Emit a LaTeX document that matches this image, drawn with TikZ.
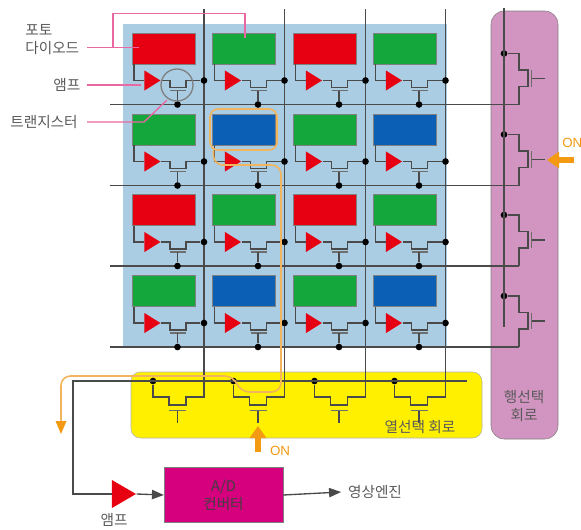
\documentclass[tikz,border=0pt]{standalone}
\usepackage{fontspec}
\setmainfont{Liberation Sans}
\newfontfamily\krfont{Noto Sans CJK KR}
\usetikzlibrary{arrows.meta, shapes.geometric}

\definecolor{panelblue}{HTML}{AACDE3}
\definecolor{diodered}{HTML}{E60012}
\definecolor{diodegreen}{HTML}{13A73C}
\definecolor{diodeblue}{HTML}{0B5FB5}
\definecolor{colyellow}{HTML}{FFF000}
\definecolor{rowpink}{HTML}{D295C1}
\definecolor{adcpink}{HTML}{D6007F}
\definecolor{wiregray}{HTML}{4A4A4A}
\definecolor{notepink}{HTML}{EA68A2}
\definecolor{pathorange}{HTML}{F2B45C}
\definecolor{onorange}{HTML}{F39A12}
\definecolor{labelgray}{HTML}{5A5A5A}

\tikzset{
    wire/.style = {draw=wiregray, line width=1pt},
    gatebar/.style = {draw=wiregray!80, line width=1.3pt},
    jct/.style = {circle, fill=black, inner sep=0pt, minimum size=5pt},
    diode/.style = {draw=gray, line width=.4pt, minimum width=47pt, minimum height=23pt, inner sep=0pt},
    amp/.style = {isosceles triangle, isosceles triangle stretches, fill=diodered, inner sep=0pt,
        minimum width=15pt, minimum height=12pt},
    note/.style = {draw=notepink, line width=1pt},
    krlabel/.style = {text=labelgray, inner sep=0pt, font=\krfont\fontsize{11}{13.5}\selectfont, align=left},
    onlabel/.style = {text=onorange, inner sep=0pt, font=\fontsize{10}{12}\selectfont},
    onarrow/.style = {draw=onorange, line width=4.5pt, -{Triangle[length=9pt, width=12pt]}},
    hilite/.style = {draw=pathorange, line width=1.2pt},
}

\begin{document}
\begin{tikzpicture}[x=0.75pt, y=-0.75pt]
    \useasboundingbox (0, 0) rectangle (581, 529);

    % blocks
    \fill[panelblue] (123, 24) rectangle (447, 347);
    \draw[draw=gray!60, fill=colyellow, rounded corners=7pt] (131, 372) rectangle (482, 438);
    \draw[draw=gray, fill=rowpink, rounded corners=10pt] (491, 11) rectangle (558, 439);

    % column lines with their switches
    \foreach \c [count=\i] in {204, 284.5, 365.5, 445.5} {
        \node[jct] (bus\i) at (\c-51, 381) {};
        \draw[wire] (\c, 9) -- (\c, 397) -- (\c-18, 397) -- (\c-18, 405)
            -- (\c-35, 405) -- (\c-35, 397) -- (\c-51, 397) -- (bus\i);
        \draw[gatebar] (\c-35, 410.5) -- (\c-18, 410.5);
        \draw[wire] (\c-26.5, 410.5) -- (\c-26.5, 423);
    }

    % pixel array
    \foreach \r/\odd/\even [count=\j] in {104.5/diodered/diodegreen, 185.5/diodegreen/diodeblue,
                                          266/diodered/diodegreen, 347/diodegreen/diodeblue} {
        \draw[wire] (110, \r) -- (519, \r);
        \foreach \c/\tone [count=\i] in {204/\odd, 284.5/\even, 365.5/\odd, 445.5/\even} {
            \node[diode, fill=\tone] (pd\i-\j) at (\c-40.5, \r-56) {};
            \node[amp] (amp\i-\j) at (\c-54, \r-24) {};
            \node[jct] (out\i-\j) at (\c, \r-24) {};
            \node[jct] (sel\i-\j) at (\c-26.5, \r) {};
            \draw[wire] ([xshift=1.5pt]pd\i-\j.south west) |- (amp\i-\j.west);
            \draw[wire] (amp\i-\j.east) -- (\c-34, \r-24) -- (\c-34, \r-17)
                -- (\c-18, \r-17) -- (\c-18, \r-24) -- (out\i-\j);
            \draw[gatebar] (\c-34, \r-14) -- (\c-18, \r-14);
            \draw[wire] (\c-26.5, \r-14) -- (sel\i-\j);
        }
        % row switch
        \node[jct] (row\j) at (504, \r-51) {};
        \draw[wire] (row\j) -- (519, \r-51) -- (519, \r-34.5) -- (528, \r-34.5)
            -- (528, \r-18) -- (519, \r-18) -- (519, \r);
        \draw[gatebar] (531.5, \r-34.5) -- (531.5, \r-18);
        \draw[wire] (531.5, \r-26) -- (545, \r-26);
    }
    \draw[wire] (504, 8) -- (504, 327);

    % read out
    \node[draw=gray, fill=adcpink, minimum width=89pt, minimum height=41pt, inner sep=0pt, krlabel, align=center,
        text=black!75] (adc) at (223.5, 495) {A/D\\컨버터};
    \node[amp, minimum width=21pt, minimum height=18pt] (outamp) at (120, 494) {};
    \node[krlabel] (engine) at (375, 492) {영상엔진};
    \coordinate (busend) at (467, 381);
    \draw[wire] (busend) -- (73, 381) -- (73, 494) -- (outamp.west);
    \draw[wire, -{Triangle[length=9pt, width=7pt]}] (outamp.east) -- (adc.west);
    \draw[wire, -{Triangle[length=9pt, width=7pt]}] (adc.east) -- ([xshift=-5pt]engine.west);
    \node[krlabel] (ampbot) at (114, 520) {앰프};

    % labels on the left
    \node[krlabel, anchor=west] (pdlabel) at (25, 40) {포토\\다이오드};
    \node[krlabel, anchor=west] (amplabel) at (53, 85) {앰프};
    \node[krlabel, anchor=west] (trlabel) at (10, 122) {트랜지스터};
    \coordinate (pdsplit) at (113, 47.5);
    \draw[note] (87, 47.5) -- (139, 47.5);
    \draw[note] (pdsplit) -- (113, 13.5) -- (245, 13.5) -- (245, 38);
    \draw[note] (87, 85) -- (141, 85);
    \draw[note] (87, 122) -- (144, 122) -- (167, 100);
    \node[circle, draw=wiregray!70, line width=1pt, minimum size=24pt, inner sep=0pt] (trcircle) at (177, 85) {};

    % block names
    \node[krlabel] (colname) at (420, 427) {열선택 회로};
    \node[krlabel, align=center] (rowname) at (524, 406) {행선택\\회로};

    % selected pixel path
    \draw[hilite, rounded corners=6pt] (210, 109) rectangle (277, 150);
    \draw[hilite, rounded corners=7pt] (213.5, 150) -- (213.5, 165) -- (281, 165) -- (281, 392)
        -- (240, 392) -- (234, 376) -- (61, 376) -- (61, 422);
    \draw[draw=none, fill=onorange] (55.5, 421) -- (66.5, 421) -- (61, 434) -- cycle;
    \draw[onarrow] (258, 452) -- (258, 426);
    \draw[onarrow] (574, 160) -- (547, 160);
    \node[onlabel] (onbot) at (280, 451) {ON};
    \node[onlabel, anchor=west] (onright) at (562, 143) {ON};
\end{tikzpicture}
\end{document}
